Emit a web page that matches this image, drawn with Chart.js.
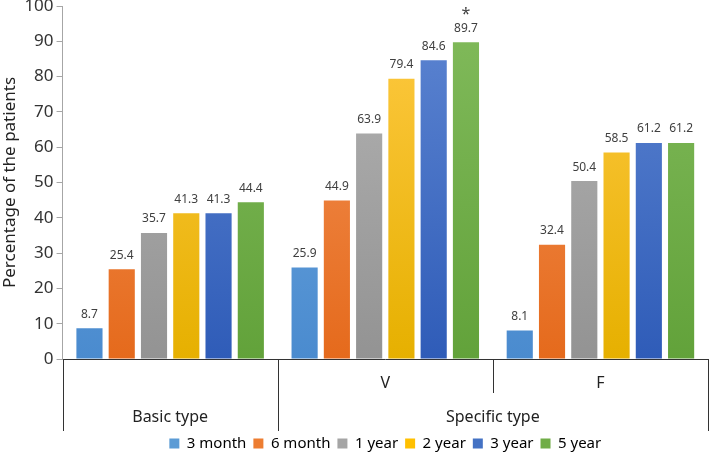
<!DOCTYPE html>
<html>
<head>
<meta charset="utf-8">
<script src="https://cdn.jsdelivr.net/npm/chart.js@4/dist/chart.umd.min.js"></script>
<style>
  html, body { margin: 0; padding: 0; background: #fff; }
  #wrap { width: 709px; height: 456px; }
</style>
</head>
<body>
<div id="wrap"><canvas id="chart"></canvas></div>
<script>
// subcategories under each group
var categories = ['', 'V', 'F'];
var groups = [{ name: 'Basic type', from: 0, to: 0 }, { name: 'Specific type', from: 1, to: 2 }];
var seriesNames = ['3 month', '6 month', '1 year', '2 year', '3 year', '5 year'];
var m3 = [8.7, 25.9, 8.1];
var m6 = [25.4, 44.9, 32.4];
var y1 = [35.7, 63.9, 50.4];
var y2 = [41.3, 79.4, 58.5];
var y3 = [41.3, 84.6, 61.2];
var y5 = [44.4, 89.7, 61.2];
var yTicks = [0, 10, 20, 30, 40, 50, 60, 70, 80, 90, 100];

// base colour, light top, dark bottom
var palette = [
  ['#5B9BD5', '#74ABE0', '#4A8BCF'],
  ['#ED7D31', '#F4955A', '#E56A1C'],
  ['#A5A5A5', '#B4B4B4', '#939393'],
  ['#FFC000', '#FFCA45', '#E6B000'],
  ['#4472C4', '#5E86D2', '#2F5CB8'],
  ['#70AD47', '#82BB5C', '#62A23A']
];

function grad(i) {
  return function (ctx) {
    var chart = ctx.chart;
    var area = chart.chartArea;
    if (!area) return palette[i][0];
    var g = chart.ctx.createLinearGradient(0, area.top, 0, area.bottom);
    g.addColorStop(0, palette[i][1]);
    g.addColorStop(1, palette[i][2]);
    return g;
  };
}

var values = [m3, m6, y1, y2, y3, y5];
var datasets = [];
for (var i = 0; i < values.length; i++) {
  datasets.push({
    label: seriesNames[i],
    data: values[i],
    backgroundColor: grad(i),
    legendColor: palette[i][0],
    categoryPercentage: 0.9,
    barPercentage: 0.81
  });
}

var FONT = '"Noto Sans", "Open Sans", sans-serif';

var labelsPlugin = {
  id: 'barLabels',
  afterDatasetsDraw: function (chart) {
    var ctx = chart.ctx;
    ctx.save();
    ctx.font = '12px ' + FONT;
    ctx.fillStyle = '#404040';
    ctx.textAlign = 'center';
    ctx.textBaseline = 'middle';
    chart.data.datasets.forEach(function (ds, di) {
      var meta = chart.getDatasetMeta(di);
      meta.data.forEach(function (bar, j) {
        ctx.fillText(ds.data[j].toFixed(1), bar.x, bar.y - 14);
        // significance mark on V, 5 year
        if (di === 5 && j === 1) {
          ctx.font = '16px ' + FONT;
          ctx.fillText('*', bar.x, bar.y - 28);
          ctx.font = '12px ' + FONT;
        }
      });
    });
    ctx.restore();
  }
};

var groupAxisPlugin = {
  id: 'groupAxis',
  afterLayout: function (chart) {
    // push legend a bit lower, below the group separators
    if (chart.legend) {
      chart.legend.top += 5;
      chart.legend.bottom += 5;
    }
  },
  afterDraw: function (chart) {
    var ctx = chart.ctx;
    var x = chart.scales.x;
    var area = chart.chartArea;
    var top = area.bottom;
    var bottom = top + 72;
    function edge(k) {
      if (k <= 0) return area.left;
      if (k >= categories.length) return area.right;
      return (x.getPixelForValue(k - 1) + x.getPixelForValue(k)) / 2;
    }
    ctx.save();
    ctx.strokeStyle = '#333';
    ctx.lineWidth = 1;
    ctx.beginPath();
    for (var k = 0; k <= categories.length; k++) {
      var px = Math.round(edge(k)) + 0.5;
      var isGroupEdge = groups.some(function (g) { return g.from === k || g.to + 1 === k; });
      ctx.moveTo(px, top);
      ctx.lineTo(px, isGroupEdge ? bottom : top + 34);
    }
    ctx.stroke();
    ctx.font = '16px ' + FONT;
    ctx.fillStyle = '#222';
    ctx.textAlign = 'center';
    ctx.textBaseline = 'middle';
    groups.forEach(function (g) {
      var cx = (edge(g.from) + edge(g.to + 1)) / 2;
      ctx.fillText(g.name, cx, top + 58);
    });
    ctx.restore();
  }
};

new Chart(document.getElementById('chart'), {
  type: 'bar',
  data: { labels: categories, datasets: datasets },
  plugins: [labelsPlugin, groupAxisPlugin],
  options: {
    responsive: true,
    maintainAspectRatio: false,
    animation: false,
    layout: { padding: { top: 0, right: 1, left: 0, bottom: 0 } },
    plugins: {
      tooltip: { enabled: false },
      legend: {
        position: 'bottom',
        fullSize: false,
        labels: {
          boxWidth: 10,
          boxHeight: 10,
          padding: 7,
          color: '#595959',
          font: { size: 15, family: FONT },
          generateLabels: function (chart) {
            return chart.data.datasets.map(function (ds, i) {
              return {
                text: ds.label,
                fillStyle: ds.legendColor,
                strokeStyle: ds.legendColor,
                lineWidth: 0,
                datasetIndex: i
              };
            });
          }
        }
      }
    },
    scales: {
      x: {
        grid: { display: false },
        border: { display: true, color: '#333', width: 1 },
        ticks: {
          color: '#222',
          font: { size: 16, family: FONT },
          padding: 7
        },
        afterFit: function (scale) { scale.height = 65; }
      },
      y: {
        min: 0,
        max: 100,
        afterBuildTicks: function (scale) {
          scale.ticks = yTicks.map(function (v) { return { value: v }; });
        },
        afterFit: function (scale) { scale.paddingTop = 6; },
        grid: { drawOnChartArea: false, drawTicks: true, tickLength: 6, color: '#a6a6a6' },
        border: { display: true, color: '#a6a6a6', width: 1 },
        ticks: {
          color: '#333',
          font: { size: 17, family: FONT },
          padding: 3
        },
        title: {
          display: true,
          text: 'Percentage of the patients',
          color: '#222',
          font: { size: 17, family: FONT },
          padding: { top: 0, bottom: 1 }
        }
      }
    }
  }
});
</script>
</body>
</html>
